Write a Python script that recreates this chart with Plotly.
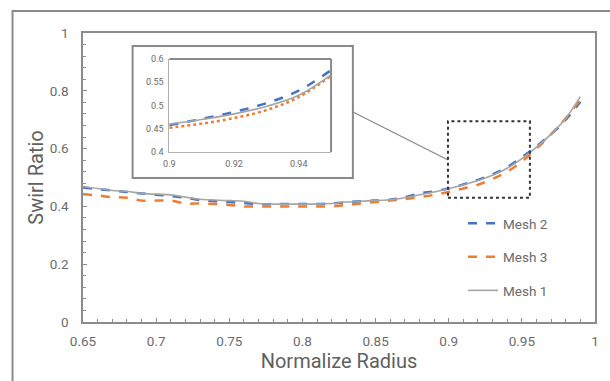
import plotly.graph_objects as go

# Main chart data
radius = [0.65, 0.66, 0.67, 0.68, 0.69, 0.70, 0.71, 0.72, 0.73, 0.74, 0.75, 0.76, 0.77, 0.78,
          0.79, 0.80, 0.81, 0.82, 0.83, 0.84, 0.85, 0.86, 0.87, 0.88, 0.89, 0.90, 0.91, 0.92,
          0.93, 0.94, 0.95, 0.96, 0.97, 0.98, 0.99]
mesh1 = [0.468, 0.462, 0.455, 0.452, 0.445, 0.442, 0.440, 0.432, 0.425, 0.422, 0.420, 0.418, 0.410, 0.408,
         0.408, 0.408, 0.408, 0.410, 0.415, 0.418, 0.420, 0.423, 0.430, 0.440, 0.450, 0.462, 0.475, 0.490,
         0.508, 0.532, 0.565, 0.605, 0.650, 0.705, 0.780]
mesh2 = [0.465, 0.460, 0.455, 0.450, 0.445, 0.440, 0.436, 0.430, 0.422, 0.418, 0.415, 0.412, 0.408, 0.408,
         0.408, 0.408, 0.408, 0.410, 0.414, 0.418, 0.420, 0.423, 0.432, 0.445, 0.452, 0.462, 0.476, 0.492,
         0.511, 0.536, 0.570, 0.608, 0.650, 0.700, 0.762]
mesh3 = [0.442, 0.438, 0.432, 0.430, 0.420, 0.420, 0.420, 0.410, 0.410, 0.408, 0.405, 0.400, 0.400, 0.400,
         0.400, 0.400, 0.400, 0.400, 0.405, 0.410, 0.415, 0.420, 0.425, 0.432, 0.440, 0.450, 0.462, 0.475,
         0.495, 0.520, 0.555, 0.600, 0.650, 0.705, 0.770]

# Inset (zoom) data
radius_zoom = [0.90, 0.91, 0.92, 0.93, 0.94, 0.95]
mesh1_zoom = [0.460, 0.470, 0.482, 0.498, 0.522, 0.566]
mesh2_zoom = [0.458, 0.471, 0.486, 0.505, 0.532, 0.576]
mesh3_zoom = [0.452, 0.461, 0.473, 0.490, 0.518, 0.564]

x_ticks = [0.65, 0.7, 0.75, 0.8, 0.85, 0.9, 0.95, 1]
x_labels = ["0.65", "0.7", "0.75", "0.8", "0.85", "0.9", "0.95", "1"]
y_ticks = [0, 0.2, 0.4, 0.6, 0.8, 1]
y_labels = ["0", "0.2", "0.4", "0.6", "0.8", "1"]
xz_ticks = [0.9, 0.92, 0.94]
xz_labels = ["0.9", "0.92", "0.94"]
yz_ticks = [0.4, 0.45, 0.5, 0.55, 0.6]
yz_labels = ["0.4", "0.45", "0.5", "0.55", "0.6"]

BLUE = "#4472C4"
ORANGE = "#ED7D31"
GRAY = "#A5A5A5"
TXT = "#6b6b6b"
FONT = "Roboto"

W, H = 610, 381
L, R, T, B = 83, 11, 33, 59
PW, PH = W - L - R, H - T - B


def px(x):
    # pixel x -> paper x (paper is relative to the plot area)
    return (x - L) / PW


def py(y):
    return (H - B - y) / PH


fig = go.Figure()

fig.add_trace(go.Scatter(x=radius, y=mesh2, name="Mesh 2", mode="lines", legendrank=1, legendgroup="g2",
                         line=dict(color=BLUE, width=2.5, dash="dash", shape="spline")))
fig.add_trace(go.Scatter(x=radius, y=mesh3, name="Mesh 3", mode="lines", legendrank=2, legendgroup="g3",
                         line=dict(color=ORANGE, width=2.5, dash="dash", shape="spline")))
fig.add_trace(go.Scatter(x=radius, y=mesh1, name="Mesh 1", mode="lines", legendrank=3, legendgroup="g1",
                         line=dict(color=GRAY, width=1.6, shape="spline")))

fig.add_trace(go.Scatter(x=radius_zoom, y=mesh2_zoom, mode="lines", showlegend=False,
                         xaxis="x2", yaxis="y2",
                         line=dict(color=BLUE, width=2.5, dash="dash", shape="spline")))
fig.add_trace(go.Scatter(x=radius_zoom, y=mesh3_zoom, mode="lines", showlegend=False,
                         xaxis="x2", yaxis="y2",
                         line=dict(color=ORANGE, width=2.5, dash="dot", shape="spline")))
fig.add_trace(go.Scatter(x=radius_zoom, y=mesh1_zoom, mode="lines", showlegend=False,
                         xaxis="x2", yaxis="y2",
                         line=dict(color=GRAY, width=1.6, shape="spline")))

fig.update_layout(
    width=W, height=H,
    margin=dict(l=L, r=R, t=T, b=B),
    paper_bgcolor="white", plot_bgcolor="white",
    font=dict(family=FONT, color=TXT, size=13),
    xaxis=dict(range=[0.65, 1.0], tickvals=x_ticks, ticktext=x_labels,
               showgrid=False, zeroline=False, showline=True, linecolor="#8c8c8c", linewidth=1.5,
               mirror=True, ticks="inside", ticklen=4, tickcolor="#8c8c8c",
               minor=dict(dtick=0.01, ticks="inside", ticklen=3, tickcolor="#8c8c8c"),
               tickfont=dict(size=13.5, color=TXT), ticklabelstandoff=6,
               title=dict(text="Normalize Radius", font=dict(size=20, color="#5f5f5f"), standoff=2)),
    yaxis=dict(range=[0, 1], tickvals=y_ticks, ticktext=y_labels,
               showgrid=False, zeroline=False, showline=True, linecolor="#8c8c8c", linewidth=1.5,
               mirror=True, ticks="inside", ticklen=4, tickcolor="#8c8c8c",
               minor=dict(dtick=0.04, ticks="inside", ticklen=3, tickcolor="#8c8c8c"),
               tickfont=dict(size=13.5, color=TXT), ticklabelstandoff=10,
               title=dict(text="Swirl Ratio", font=dict(size=20, color="#5f5f5f"), standoff=1)),
    xaxis2=dict(domain=[px(170), px(333)], anchor="y2", range=[0.9, 0.95],
                tickvals=xz_ticks, ticktext=xz_labels,
                showgrid=False, zeroline=False, showline=True, linecolor="#b0b0b0", linewidth=1,
                tickfont=dict(size=9, color=TXT), ticks="", ticklabelstandoff=3),
    yaxis2=dict(domain=[py(152), py(59)], anchor="x2", range=[0.4, 0.6],
                tickvals=yz_ticks, ticktext=yz_labels,
                showgrid=False, zeroline=False, showline=True, linecolor="#b0b0b0", linewidth=1,
                tickfont=dict(size=9, color=TXT), ticks="", ticklabelstandoff=3),
    legend=dict(x=px(466), y=py(208), xanchor="left", yanchor="top",
                bgcolor="rgba(0,0,0,0)", font=dict(size=13.5, color=TXT),
                tracegroupgap=13, itemwidth=30),
    shapes=[
        # outer frame
        dict(type="rect", xref="paper", yref="paper", x0=px(12), y0=py(395), x1=px(625), y1=py(11),
             line=dict(color="#8a8a8a", width=2), layer="below"),
        # inset outer box
        dict(type="rect", xref="paper", yref="paper", x0=px(133), y0=py(178), x1=px(355), y1=py(46),
             line=dict(color="#8a8a8a", width=2), fillcolor="white", layer="below"),
        # inset plot top/right border
        dict(type="line", xref="paper", yref="paper", x0=px(170), y0=py(59), x1=px(333), y1=py(59),
             line=dict(color="#8a8a8a", width=2)),
        dict(type="line", xref="paper", yref="paper", x0=px(333), y0=py(59), x1=px(333), y1=py(152),
             line=dict(color="#8a8a8a", width=2)),
        # connector
        dict(type="line", xref="paper", yref="paper", x0=px(355), y0=py(112), x1=px(451), y1=py(160),
             line=dict(color="#8a8a8a", width=1.3)),
        # dotted zoom box
        dict(type="rect", xref="x", yref="y", x0=0.8995, y0=0.43, x1=0.9555, y1=0.695,
             line=dict(color="#333333", width=2, dash="dot")),
    ],
)

fig.write_html("out.html")
